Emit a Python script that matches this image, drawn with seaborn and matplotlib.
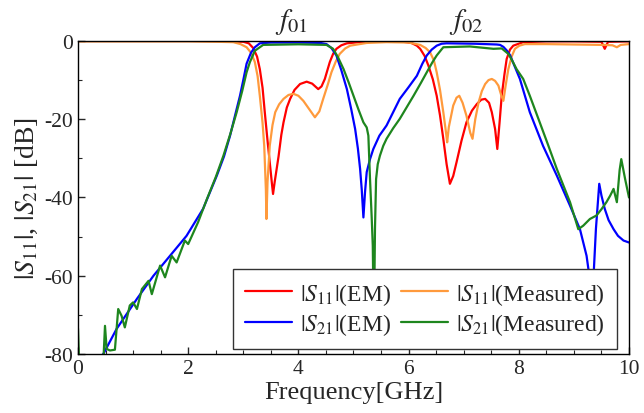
import numpy as np
import pandas as pd
import matplotlib
matplotlib.use("Agg")
import matplotlib.pyplot as plt
import seaborn as sns
from matplotlib.ticker import MultipleLocator

# |S11| EM (red)
s11_em_f = [0.0, 1.0, 2.0, 2.6, 3.0, 3.1, 3.18, 3.25, 3.30, 3.35, 3.39, 3.44, 3.48, 3.52, 3.54, 3.57,
            3.64, 3.69, 3.73, 3.79, 3.85, 3.93, 4.03, 4.15, 4.25, 4.36, 4.42, 4.48, 4.53, 4.57, 4.63,
            4.69, 4.78, 4.88, 5.1, 5.5, 5.9, 6.05, 6.15, 6.21, 6.29, 6.36, 6.44, 6.51, 6.57, 6.63,
            6.69, 6.75, 6.81, 6.87, 6.96, 7.05, 7.15, 7.24, 7.32, 7.39, 7.46, 7.51, 7.57, 7.61,
            7.65, 7.69, 7.74, 7.78, 7.84, 7.90, 8.08, 8.5, 9.0, 9.5, 9.56, 9.62, 10.0]
s11_em_db = [0.0, 0.0, 0.0, -0.05, -0.2, -0.6, -1.8, -4.0, -7.2, -12.0, -18.2, -25.5, -31.0, -36.5, -39.1, -36.0,
             -29.5, -24.0, -20.8, -17.0, -14.8, -12.5, -11.0, -10.4, -10.9, -12.3, -11.6, -9.7, -7.3, -5.4, -3.3,
             -2.0, -1.1, -0.6, -0.3, -0.1, -0.2, -0.5, -1.2, -2.0, -3.8, -6.3, -9.8, -14.0, -19.0, -25.0,
             -31.5, -36.5, -34.5, -31.0, -25.5, -20.8, -17.8, -16.1, -15.0, -14.8, -15.8, -18.2, -22.5, -27.6,
             -21.0, -14.0, -8.5, -4.6, -2.2, -1.2, -0.3, -0.1, -0.1, -0.2, -2.0, -0.2, -0.1]

# |S11| measured (orange)
s11_ms_f = [0.0, 1.0, 2.0, 2.5, 2.82, 2.95, 3.06, 3.14, 3.21, 3.26, 3.30, 3.35, 3.38, 3.41, 3.42, 3.44,
            3.48, 3.53, 3.58, 3.65, 3.73, 3.82, 3.91, 4.00, 4.09, 4.20, 4.30, 4.38, 4.45, 4.53, 4.60,
            4.68, 4.75, 4.85, 4.94, 5.24, 5.6, 6.0, 6.21, 6.31, 6.39, 6.46, 6.51, 6.57, 6.63, 6.68,
            6.70, 6.73, 6.81, 6.87, 6.92, 6.98, 7.05, 7.12, 7.16, 7.21, 7.27, 7.33, 7.39, 7.45, 7.51,
            7.57, 7.63, 7.68, 7.72, 7.76, 7.81, 7.87, 7.93, 8.01, 8.11, 8.5, 9.0, 9.5, 9.7, 9.78,
            9.85, 10.0]
s11_ms_db = [-0.1, -0.1, -0.1, -0.2, -0.3, -0.8, -1.6, -3.0, -5.4, -9.0, -14.0, -21.0, -26.8, -38.0, -45.5, -36.0,
             -26.8, -21.5, -18.2, -16.2, -14.8, -13.8, -13.5, -14.0, -15.3, -17.5, -19.5, -18.0, -14.8, -11.3, -8.0,
             -5.2, -3.3, -1.9, -1.2, -0.5, -0.3, -0.4, -1.0, -1.8, -2.9, -5.0, -8.0, -12.5, -18.2, -23.5,
             -25.9, -22.0, -16.5, -14.5, -14.0, -15.8, -19.1, -23.5, -25.0, -20.0, -15.7, -12.8, -11.0, -10.0, -9.7,
             -10.2, -11.4, -13.8, -15.3, -11.5, -7.2, -4.0, -2.0, -1.2, -0.8, -0.8, -0.9, -1.0, -1.1, -1.6,
             -1.0, -0.8]

# |S21| EM (blue)
s21_em_f = [0.30, 0.46, 0.70, 1.07, 1.37, 1.67, 1.97, 2.27, 2.52, 2.65, 2.76, 2.86, 2.94, 3.00, 3.06, 3.14,
            3.21, 3.30, 3.5, 4.0, 4.40, 4.51, 4.60, 4.69, 4.78, 4.88, 4.96, 5.03, 5.08, 5.12, 5.15,
            5.18, 5.21, 5.24, 5.30, 5.36, 5.47, 5.60, 5.72, 5.84, 6.00, 6.15, 6.25, 6.33, 6.42, 6.51,
            6.60, 6.69, 7.2, 7.60, 7.66, 7.72, 7.78, 7.84, 7.92, 8.02, 8.20, 8.44, 8.69, 8.93, 9.11,
            9.23, 9.30, 9.35, 9.40, 9.46, 9.50, 9.56, 9.63, 9.72, 9.80, 9.90, 10.0]
s21_em_db = [-82.0, -80.0, -73.6, -65.9, -60.0, -54.9, -49.8, -42.9, -34.4, -29.5, -24.2, -18.5, -14.0, -10.0, -5.8, -3.0,
             -1.6, -0.6, -0.4, -0.4, -0.5, -0.8, -1.8, -3.7, -7.5, -12.3, -17.5, -22.5, -27.5, -32.7, -38.0,
             -45.1, -38.5, -33.5, -30.2, -27.6, -24.2, -21.6, -18.2, -14.8, -11.8, -8.9, -5.8, -3.7, -2.2, -1.2,
             -0.7, -0.6, -0.7, -0.9, -1.0, -1.5, -2.4, -3.6, -6.3, -9.7, -18.2, -26.8, -34.4, -42.1, -48.1,
             -54.9, -62.0, -62.0, -48.0, -36.5, -39.5, -42.9, -45.8, -48.1, -49.8, -51.0, -51.5]

# |S21| measured (green)
s21_ms_f = [0.0, 0.02, 0.46, 0.49, 0.52, 0.58, 0.67, 0.73, 0.79, 0.85, 0.94, 1.00, 1.07, 1.16, 1.28, 1.34,
            1.49, 1.58, 1.70, 1.79, 1.94, 2.00, 2.18, 2.34, 2.50, 2.64, 2.77, 2.88, 2.98, 3.06, 3.12,
            3.21, 3.36, 4.0, 4.51, 4.63, 4.72, 4.82, 4.91, 5.00, 5.09, 5.18, 5.24, 5.27, 5.30, 5.33,
            5.35, 5.37, 5.39, 5.41, 5.44, 5.48, 5.54, 5.60, 5.72, 5.84, 6.09, 6.22, 6.33, 6.43, 6.51,
            6.63, 7.11, 7.54, 7.69, 7.81, 7.88, 7.96, 8.08, 8.20, 8.38, 8.53, 8.69, 8.93, 9.08, 9.17,
            9.29, 9.41, 9.50, 9.59, 9.66, 9.72, 9.78, 9.83, 9.86, 9.93, 10.0]
s21_ms_db = [-73.5, -82.0, -82.0, -72.8, -78.7, -79.1, -78.9, -68.5, -70.2, -73.2, -67.6, -66.8, -68.5, -63.4, -61.3, -64.7,
             -57.4, -60.4, -54.9, -56.6, -51.0, -51.9, -46.3, -40.4, -34.8, -29.3, -23.5, -18.2, -12.8, -8.0, -5.4,
             -2.5, -1.0, -0.85, -1.0, -2.0, -4.2, -7.2, -10.5, -14.0, -17.5, -20.8, -22.1, -24.2, -35.3, -45.0,
             -52.3, -75.0, -48.0, -35.3, -31.5, -29.3, -26.8, -25.0, -22.3, -19.9, -14.0, -10.8, -8.0, -5.5, -3.7,
             -1.6, -1.4, -2.0, -1.9, -3.3, -5.0, -7.2, -9.7, -14.0, -20.8, -26.5, -32.7, -41.2, -48.1, -47.2,
             -45.5, -44.6, -43.0, -41.2, -39.5, -37.8, -41.2, -33.0, -30.2, -35.3, -40.0]

f01_pos = 3.88
f02_pos = 7.04

sns.set_style("ticks")
plt.rcParams["font.family"] = ["Liberation Serif", "DejaVu Serif"]
plt.rcParams["mathtext.fontset"] = "stix"
plt.rcParams["axes.unicode_minus"] = False

fig = plt.figure(figsize=(6.44, 4.14), dpi=100)
ax = fig.add_axes([0.1211, 0.1425, 0.8556, 0.7561])

series = [
    (s11_em_f, s11_em_db, "#ff0000", r"$|S_{11}|$(EM)"),
    (s11_ms_f, s11_ms_db, "#ff9a3c", r"$|S_{11}|$(Measured)"),
    (s21_em_f, s21_em_db, "#0000ff", r"$|S_{21}|$(EM)"),
    (s21_ms_f, s21_ms_db, "#1e861e", r"$|S_{21}|$(Measured)"),
]
for f, db, c, lab in series:
    df = pd.DataFrame({"f": f, "db": db})
    sns.lineplot(data=df, x="f", y="db", ax=ax, color=c, lw=1.6, label=lab,
                 sort=False, estimator=None)

ax.set_xlim(0, 10)
ax.set_ylim(-80, 0)
ax.xaxis.set_major_locator(MultipleLocator(2))
ax.xaxis.set_minor_locator(MultipleLocator(0.5))
ax.yaxis.set_major_locator(MultipleLocator(20))
ax.yaxis.set_minor_locator(MultipleLocator(10))
ax.tick_params(which="both", direction="in", labelsize=15.5, top=False, right=False)
ax.tick_params(which="major", length=5, width=1)
ax.tick_params(which="minor", length=3, width=0.8)
for sp in ax.spines.values():
    sp.set_linewidth(1.0)
    sp.set_color("black")

ax.set_xlabel("Frequency[GHz]", fontsize=19, labelpad=2)
ax.set_ylabel(r"$|S_{11}|$, $|S_{21}|$ [dB]", fontsize=20, labelpad=3)

ax.text(f01_pos, 1.2, r"$f_{01}$", fontsize=21, ha="center", va="bottom", clip_on=False)
ax.text(f02_pos, 1.2, r"$f_{02}$", fontsize=21, ha="center", va="bottom", clip_on=False)

h, l = ax.get_legend_handles_labels()
order = [0, 2, 1, 3]
leg = ax.legend([h[i] for i in order], [l[i] for i in order], ncol=2, loc="lower right",
                bbox_to_anchor=(0.978, 0.016), borderaxespad=0, fontsize=17,
                frameon=True, fancybox=False, edgecolor="#333333", framealpha=1,
                handlelength=2.0, columnspacing=0.4, handletextpad=0.35, labelspacing=0.2,
                borderpad=0.5)
leg.get_frame().set_linewidth(1.0)

fig.savefig("out.png", dpi=100)
